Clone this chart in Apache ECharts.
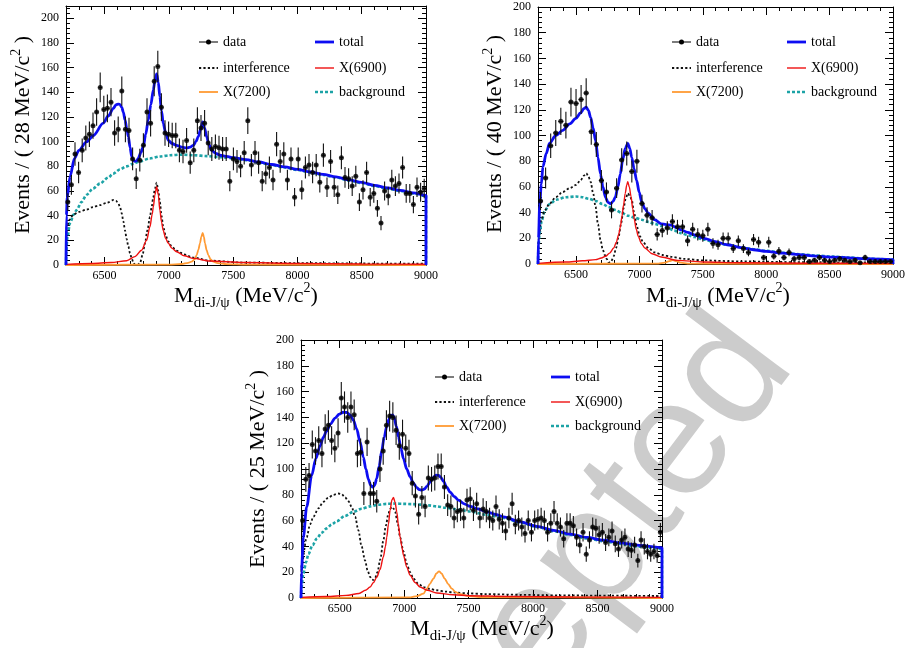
<!DOCTYPE html>
<html>
<head>
<meta charset="utf-8">
<script src="https://cdn.jsdelivr.net/npm/echarts@6/dist/echarts.min.js"></script>
<style>
html, body { margin: 0; padding: 0; background: #fff; }
#chart { width: 908px; height: 648px; }
</style>
</head>
<body>
<div id="chart"></div>
<script>
var FONT = '"Liberation Serif", "Times New Roman", serif'

// axis range, bin widths (MeV) and ticks
var xMin = 6200
var xMax = 9000
var binWidths = [28, 40, 25]
var yMaxes = [210, 200, 200]
var xMajorTicks = [6500, 7000, 7500, 8000, 8500, 9000]
var yMajorTicks = [0, 20, 40, 60, 80, 100, 120, 140, 160, 180, 200]
var legendNames = ['data', 'total', 'interference', 'X(6900)', 'X(7200)', 'background']

// ---- panel 1 (28 MeV bins) ----
var p1Counts = [51, 65, 90, 75, 93, 103, 106, 113, 124, 144,
  126, 127, 132, 107, 110, 141, 110, 109, 86, 70,
  85, 97, 124, 115, 149, 161, 128, 107, 106, 105,
  105, 93, 92, 101, 83, 93, 117, 111, 115, 99,
  94, 96, 95, 94, 94, 68, 86, 84, 80, 91,
  117, 81, 91, 83, 68, 74, 79, 69, 98, 84,
  90, 69, 86, 55, 86, 61, 79, 81, 75, 81,
  67, 89, 63, 84, 63, 57, 87, 71, 70, 64,
  72, 51, 61, 75, 55, 58, 46, 34, 60, 56,
  69, 64, 66, 79, 58, 58, 49, 63, 59, 62]
var p1Total = [[6200, 0], [6203, 40], [6210, 55], [6231, 71.6], [6266, 86.5], [6300, 93], [6361, 100], [6413, 105], [6490, 115], [6530, 121], [6568, 127], [6590, 130], [6607, 130.5], [6620, 130], [6633, 128], [6646, 124], [6659, 117.6], [6672, 111], [6685, 104], [6698, 95.5], [6711, 88], [6724, 85], [6736, 84], [6750, 84.5], [6762, 86.5], [6782, 91], [6801, 96], [6820, 106], [6840, 117.6], [6860, 130], [6879, 142], [6893, 150], [6905, 155], [6918, 148], [6930, 136.5], [6943, 125], [6956, 115], [6975, 107], [6996, 101], [7025, 98.5], [7060, 97], [7100, 95.5], [7138, 95], [7165, 95.5], [7190, 97], [7210, 100], [7229, 104], [7246, 110], [7263, 116], [7278, 111], [7294, 104], [7312, 97.5], [7333, 93], [7365, 90.5], [7398, 89], [7450, 88], [7501, 87], [7600, 85.5], [7700, 83.5], [7800, 81.5], [7900, 79.5], [8000, 77.5], [8100, 75.5], [8200, 73.5], [8300, 71.5], [8400, 69], [8500, 67], [8600, 64.5], [8700, 62.5], [8800, 60.5], [8900, 58.5], [9000, 56.5], [9000, 0]]
var p1Bkg = [[6200, 0], [6203, 12], [6210, 22], [6231, 34], [6260, 41], [6283, 44.6], [6320, 51], [6361, 57], [6410, 62], [6464, 66], [6530, 71], [6566, 74], [6620, 77.5], [6670, 80], [6720, 82], [6774, 84], [6850, 86.3], [6930, 88], [7009, 89], [7100, 89.5], [7190, 89], [7300, 88.3], [7400, 87.5], [7501, 86.5], [7600, 85], [7700, 83], [7800, 81], [7900, 79], [8000, 77], [8100, 75], [8200, 73], [8300, 71], [8400, 68.5], [8500, 66.5], [8600, 64], [8700, 62], [8800, 60], [8900, 58], [9000, 56], [9000, 0]]
var p1Interf = [[6200, 15], [6205, 31], [6230, 37], [6257, 41], [6300, 43], [6361, 45], [6410, 47], [6464, 48.6], [6520, 50.5], [6568, 52.7], [6590, 52], [6607, 50], [6620, 47], [6633, 42], [6646, 35.5], [6659, 28], [6672, 21], [6685, 15], [6698, 9.5], [6711, 5.4], [6724, 2], [6736, 0.3], [6755, 0], [6775, 1.4], [6795, 8], [6814, 17.6], [6833, 28], [6853, 39], [6866, 47], [6879, 55], [6892, 62], [6905, 66.8], [6918, 60], [6930, 51], [6943, 40], [6956, 31], [6975, 24], [6996, 19], [7025, 14.5], [7060, 11.6], [7120, 8.5], [7190, 6], [7320, 3.5], [7579, 2], [8000, 1.5], [8500, 1.2], [9000, 1]]
var p1X6900 = [[6200, 0.5], [6400, 1.2], [6550, 2], [6672, 3.5], [6736, 6.8], [6788, 12], [6827, 20], [6853, 31], [6870, 41], [6879, 47], [6892, 57], [6905, 63.5], [6918, 57], [6930, 44.6], [6943, 35], [6956, 28], [6975, 21.5], [6996, 17.6], [7025, 13.5], [7060, 10.8], [7120, 7.5], [7190, 5.4], [7320, 3.2], [7579, 2], [8000, 1.2], [8500, 0.8], [9000, 0.6]]
var p1X7200 = [[6200, 0], [7000, 0.3], [7100, 0.8], [7150, 1.8], [7177, 2.7], [7200, 4.5], [7216, 8], [7230, 12.5], [7242, 17.6], [7253, 23], [7263, 26], [7272, 23], [7281, 17.6], [7294, 12], [7307, 8], [7325, 4.5], [7346, 2.7], [7380, 1.5], [7450, 0.7], [7600, 0.3], [9000, 0]]

// ---- panel 2 (40 MeV bins) ----
var p2Counts = [49, 67, 92, 102, 111, 108, 126, 125, 128, 133,
  103, 93, 65, 56, 42, 59, 81, 86, 72, 80,
  47, 38, 36, 23, 26, 28, 33, 29, 29, 18,
  27, 23, 22, 27, 16, 15, 20, 20, 12, 18,
  12, 9, 19, 17, 5, 17, 6, 10, 5, 9,
  4, 5, 5, 2, 3, 5, 3, 2, 3, 4,
  3, 2, 3, 1, 5, 2, 2, 2, 2, 2]
var p2Total = [[6200, 0], [6204, 20], [6213, 45], [6226, 62], [6239, 75.8], [6265, 86], [6291, 94], [6340, 100], [6395, 104], [6450, 109], [6499, 113.3], [6535, 117.5], [6563, 121], [6580, 122], [6598, 119.5], [6615, 114], [6635, 106], [6654, 96], [6673, 83], [6693, 70], [6712, 60], [6732, 52], [6752, 48], [6771, 46.8], [6790, 48.5], [6810, 52], [6830, 60], [6849, 70], [6868, 81], [6888, 90], [6908, 93.8], [6924, 90], [6939, 83], [6958, 74], [6978, 65], [6998, 56], [7017, 48.6], [7043, 43], [7069, 39.6], [7120, 34.5], [7172, 31.3], [7210, 30.7], [7250, 30.2], [7290, 28.3], [7328, 26.6], [7380, 24.6], [7432, 22.7], [7510, 20], [7588, 17.6], [7691, 15], [7800, 12.8], [7900, 11.1], [8002, 9.8], [8130, 8.4], [8261, 7.2], [8390, 6.2], [8521, 5.4], [8650, 4.7], [8780, 4.1], [8900, 3.7], [9000, 3.4], [9000, 0]]
var p2Bkg = [[6200, 0], [6204, 14], [6213, 24], [6230, 34], [6252, 41], [6290, 46.5], [6343, 50], [6421, 52], [6499, 52.5], [6550, 52], [6602, 50.7], [6655, 49], [6706, 46.8], [6760, 44.3], [6810, 42], [6860, 39.8], [6913, 37.5], [6965, 36], [7017, 34.4], [7070, 32.8], [7120, 31.3], [7172, 29.6], [7224, 28], [7276, 26], [7328, 24], [7380, 22.5], [7432, 21], [7510, 19], [7588, 17], [7691, 15], [7800, 13], [7900, 11.5], [8002, 10.2], [8130, 8.8], [8261, 7.6], [8390, 6.6], [8521, 5.8], [8650, 5], [8780, 4.3], [8900, 3.8], [9000, 3.4], [9000, 0]]
var p2Interf = [[6200, 5], [6206, 20], [6226, 34.4], [6255, 42], [6291, 47], [6340, 52], [6395, 56], [6450, 59], [6499, 61.5], [6535, 65], [6563, 68.8], [6581, 70.6], [6598, 68], [6615, 64], [6635, 55], [6654, 44.6], [6673, 31], [6693, 18.8], [6710, 11.5], [6727, 7], [6742, 4], [6758, 1], [6777, 2], [6797, 6], [6816, 12.5], [6836, 21.5], [6856, 32], [6875, 43.5], [6892, 51], [6908, 55], [6924, 53], [6939, 50], [6958, 40], [6978, 29.6], [7004, 21.5], [7030, 16.7], [7075, 12], [7120, 9], [7185, 7], [7250, 5.6], [7350, 4], [7500, 2.8], [7800, 2], [8300, 1.4], [9000, 1]]
var p2X6900 = [[6200, 0.5], [6420, 1.5], [6550, 2.5], [6654, 3.4], [6700, 4.7], [6732, 6], [6765, 8.5], [6797, 12.4], [6818, 17], [6836, 22.8], [6850, 29], [6862, 37], [6875, 46], [6888, 55], [6900, 61.5], [6908, 64], [6920, 60], [6934, 52.5], [6947, 43], [6960, 34.4], [6975, 27], [6991, 21.5], [7015, 16], [7043, 12.4], [7100, 8], [7172, 5.4], [7302, 2.8], [7500, 1.6], [7800, 1], [8300, 0.6], [9000, 0.4]]
var p2X7200 = [[6200, 0], [7150, 0.3], [7200, 1], [7235, 2.3], [7263, 3], [7290, 2.3], [7325, 1], [7380, 0.3], [9000, 0]]

// ---- panel 3 (25 MeV bins) ----
var p3Counts = [60, 92, 95, 119, 114, 122, 112, 131, 134, 122,
  116, 128, 155, 148, 140, 148, 142, 112, 113, 81,
  121, 81, 81, 75, 100, 114, 134, 141, 140, 130,
  118, 127, 116, 112, 89, 79, 65, 78, 71, 93,
  92, 93, 102, 102, 86, 72, 71, 62, 67, 68,
  62, 76, 77, 68, 73, 62, 69, 67, 62, 60,
  71, 61, 58, 52, 62, 73, 57, 60, 55, 50,
  60, 51, 60, 61, 62, 60, 51, 58, 67, 58,
  55, 46, 58, 58, 56, 47, 41, 51, 34, 45,
  55, 54, 49, 51, 43, 47, 52, 42, 38, 45,
  47, 38, 37, 41, 29, 45, 40, 36, 34, 36,
  33, 51]
var p3Total = [[6200, 0], [6204, 21], [6218, 47], [6244, 70.6], [6283, 95], [6315, 108], [6348, 118], [6373, 124.5], [6399, 129.5], [6430, 135], [6464, 139.5], [6497, 142.5], [6529, 144], [6555, 143.8], [6580, 142], [6606, 138], [6632, 131], [6658, 121], [6684, 109], [6703, 100], [6723, 92], [6740, 87.5], [6756, 86], [6772, 87.5], [6787, 92.6], [6806, 102], [6826, 114], [6845, 124.5], [6865, 133], [6881, 138.5], [6896, 141.5], [6910, 142], [6922, 140], [6940, 133], [6956, 125], [6975, 116], [6995, 108], [7020, 100], [7046, 94], [7072, 89], [7098, 85.5], [7118, 84], [7137, 83.6], [7157, 84.5], [7176, 86.5], [7202, 90], [7227, 93.5], [7247, 95.3], [7266, 95], [7285, 93.5], [7305, 90.5], [7330, 86], [7357, 82], [7390, 78.5], [7421, 75.8], [7466, 73], [7512, 71], [7577, 69], [7641, 66.8], [7706, 64.9], [7771, 62.9], [7900, 59], [8030, 55.5], [8160, 52.5], [8289, 49.5], [8418, 47], [8547, 44.8], [8676, 42.8], [8806, 41], [8900, 40], [9000, 39], [9000, 0]]
var p3Bkg = [[6200, 0], [6204, 8], [6218, 19], [6240, 28], [6257, 34], [6290, 41], [6322, 46], [6360, 50.5], [6399, 54], [6438, 57], [6477, 59.5], [6540, 63.5], [6606, 66.8], [6670, 69.2], [6736, 71], [6800, 72.3], [6865, 73], [6930, 73.2], [6995, 73], [7060, 72.8], [7124, 72.4], [7190, 71.8], [7253, 71], [7318, 70], [7383, 69], [7448, 68], [7512, 67], [7641, 64.5], [7771, 62], [7900, 58.5], [8030, 55], [8160, 51.8], [8289, 48.8], [8418, 46.2], [8547, 44], [8676, 42], [8806, 40], [8900, 39], [9000, 38], [9000, 0]]
var p3Interf = [[6200, 10], [6205, 26], [6244, 47], [6270, 57], [6296, 63], [6335, 69.5], [6373, 74.5], [6412, 77.8], [6451, 80], [6490, 81], [6515, 80.5], [6542, 78], [6568, 75], [6593, 70.6], [6620, 63], [6645, 52.5], [6670, 40], [6697, 29], [6716, 21.5], [6736, 16.3], [6750, 14.3], [6762, 14], [6775, 15.5], [6793, 20], [6815, 30], [6839, 44.8], [6858, 56], [6878, 65.5], [6891, 69], [6904, 70.6], [6917, 69.5], [6930, 66.8], [6950, 58], [6969, 47], [6995, 36], [7020, 26.6], [7046, 20], [7072, 15], [7110, 11], [7150, 8.5], [7200, 7], [7253, 6], [7320, 5], [7383, 4.3], [7500, 3.6], [7641, 3], [7900, 2.5], [8200, 2], [8600, 1.8], [9000, 1.5]]
var p3X6900 = [[6200, 0.5], [6400, 1.2], [6550, 2], [6650, 3.5], [6700, 6], [6736, 8.5], [6762, 12], [6787, 16], [6813, 22], [6839, 32], [6855, 40], [6865, 47], [6878, 57], [6891, 68], [6905, 76], [6917, 78], [6930, 74], [6943, 66.8], [6956, 56], [6969, 47], [6982, 40], [6995, 33], [7020, 24], [7046, 17.6], [7085, 12], [7124, 8.5], [7180, 6], [7253, 3.9], [7380, 2.5], [7512, 1.8], [7800, 1.2], [8300, 0.8], [9000, 0.5]]
var p3X7200 = [[6200, 0], [7050, 0.5], [7100, 1.5], [7150, 3.4], [7176, 7.2], [7200, 11], [7227, 15], [7250, 19], [7271, 20.7], [7290, 19], [7315, 15], [7340, 11], [7370, 7.2], [7400, 4.5], [7435, 3], [7500, 1.5], [7600, 0.6], [9000, 0]]

var panelCounts = [p1Counts, p2Counts, p3Counts]
var panelCurves = [
  { total: p1Total, bkg: p1Bkg, interf: p1Interf, x6900: p1X6900, x7200: p1X7200 },
  { total: p2Total, bkg: p2Bkg, interf: p2Interf, x6900: p2X6900, x7200: p2X7200 },
  { total: p3Total, bkg: p3Bkg, interf: p3Interf, x6900: p3X6900, x7200: p3X7200 }
]

// layout
var grids = [
  { left: 66, top: 6, width: 360, height: 259 },
  { left: 538, top: 7, width: 360, height: 257 },
  { left: 301, top: 340, width: 361, height: 258 }
]
var legendPos = [
  { c1: 199, c2: 315, rows: [42, 68, 92] },
  { c1: 672, c2: 787, rows: [42, 68, 92] },
  { c1: 435, c2: 551, rows: [377, 402, 426] }
]
var xTitlePos = [[246, 296], [718, 296], [482, 629]]
var yTitlePos = [[23, 135], [495, 134], [258, 469]]

var COLORS = {
  total: '#0d0df2',
  bkg: '#1ca3a6',
  interf: '#111111',
  x6900: '#ee1111',
  x7200: '#ff9a33'
}
var STYLES = {
  bkg: { color: COLORS.bkg, width: 2.6, type: [3, 2] },
  interf: { color: COLORS.interf, width: 1.8, type: [2.2, 2.2] },
  x6900: { color: COLORS.x6900, width: 1.4, type: 'solid' },
  x7200: { color: COLORS.x7200, width: 1.8, type: 'solid' },
  total: { color: COLORS.total, width: 2.8, type: 'solid' }
}

function plainNumber(v) { return String(v) }

function makeAxes(p) {
  var xs = [], ys = []
  var tickStyle = { color: '#000', width: 1 }
  var lineStyle = { color: '#000', width: 1 }
  var xBase = { gridIndex: p, type: 'value', min: xMin, max: xMax, splitLine: { show: false } }
  var yBase = { gridIndex: p, type: 'value', min: 0, max: yMaxes[p], splitLine: { show: false } }
  var label = { color: '#000', fontFamily: FONT, fontSize: 12, formatter: plainNumber }

  xs.push(Object.assign({}, xBase, {
    position: 'bottom',
    axisLine: { onZero: false, lineStyle: lineStyle },
    axisTick: { inside: true, length: 8, customValues: xMajorTicks, lineStyle: tickStyle },
    axisLabel: Object.assign({ customValues: xMajorTicks, margin: 5 }, label)
  }))
  xs.push(Object.assign({}, xBase, {
    position: 'top',
    axisLine: { onZero: false, lineStyle: lineStyle },
    axisTick: { inside: true, length: 8, customValues: xMajorTicks, lineStyle: tickStyle },
    axisLabel: { show: false }
  }))
  xs.push(Object.assign({}, xBase, {
    position: 'bottom', interval: 100,
    axisLine: { show: false, onZero: false },
    axisTick: { inside: true, length: 4, lineStyle: tickStyle },
    axisLabel: { show: false }
  }))
  xs.push(Object.assign({}, xBase, {
    position: 'top', interval: 100,
    axisLine: { show: false, onZero: false },
    axisTick: { inside: true, length: 4, lineStyle: tickStyle },
    axisLabel: { show: false }
  }))

  ys.push(Object.assign({}, yBase, {
    position: 'left',
    axisLine: { onZero: false, lineStyle: lineStyle },
    axisTick: { inside: true, length: 8, customValues: yMajorTicks, lineStyle: tickStyle },
    axisLabel: Object.assign({ customValues: yMajorTicks, margin: 7 }, label)
  }))
  ys.push(Object.assign({}, yBase, {
    position: 'right',
    axisLine: { onZero: false, lineStyle: lineStyle },
    axisTick: { inside: true, length: 8, customValues: yMajorTicks, lineStyle: tickStyle },
    axisLabel: { show: false }
  }))
  ys.push(Object.assign({}, yBase, {
    position: 'left', interval: 4,
    axisLine: { show: false, onZero: false },
    axisTick: { inside: true, length: 4, lineStyle: tickStyle },
    axisLabel: { show: false }
  }))
  ys.push(Object.assign({}, yBase, {
    position: 'right', interval: 4,
    axisLine: { show: false, onZero: false },
    axisTick: { inside: true, length: 4, lineStyle: tickStyle },
    axisLabel: { show: false }
  }))
  return { xs: xs, ys: ys }
}

function curveSeries(p, key) {
  return {
    type: 'line',
    xAxisIndex: p * 4,
    yAxisIndex: p * 4,
    data: panelCurves[p][key],
    showSymbol: false,
    smooth: 0.3,
    smoothMonotone: 'x',
    clip: true,
    z: key === 'total' ? 3 : 2,
    lineStyle: STYLES[key]
  }
}

function dataSeries(p) {
  var w = binWidths[p]
  var pts = panelCounts[p].map(function (v, i) {
    var c = xMin + w * (i + 0.5)
    var e = Math.sqrt(v)
    return [c, v, v - e, v + e]
  })
  var bars = {
    type: 'custom',
    xAxisIndex: p * 4,
    yAxisIndex: p * 4,
    clip: true,
    z: 4,
    data: pts,
    encode: { x: 0, y: [1, 2, 3] },
    renderItem: function (params, api) {
      var x = api.value(0), y = api.value(1)
      var lo = api.coord([x, api.value(2)])
      var hi = api.coord([x, api.value(3)])
      var l = api.coord([x - w / 2, y])
      var r = api.coord([x + w / 2, y])
      var st = { stroke: '#111', lineWidth: 1.1 }
      return {
        type: 'group',
        children: [
          { type: 'line', shape: { x1: lo[0], y1: lo[1], x2: hi[0], y2: hi[1] }, style: st },
          { type: 'line', shape: { x1: l[0], y1: l[1], x2: r[0], y2: r[1] }, style: st }
        ]
      }
    }
  }
  var dots = {
    type: 'scatter',
    xAxisIndex: p * 4,
    yAxisIndex: p * 4,
    z: 5,
    symbol: 'circle',
    symbolSize: 5,
    itemStyle: { color: '#000' },
    data: pts.map(function (d) { return [d[0], d[1]] })
  }
  return [bars, dots]
}

function legendGraphic(p) {
  var L = legendPos[p]
  var out = []
  var len = 19
  var entries = [
    { col: 0, row: 0, name: legendNames[0], key: 'data' },
    { col: 1, row: 0, name: legendNames[1], key: 'total' },
    { col: 0, row: 1, name: legendNames[2], key: 'interf' },
    { col: 1, row: 1, name: legendNames[3], key: 'x6900' },
    { col: 0, row: 2, name: legendNames[4], key: 'x7200' },
    { col: 1, row: 2, name: legendNames[5], key: 'bkg' }
  ]
  entries.forEach(function (en) {
    var x0 = en.col === 0 ? L.c1 : L.c2
    var y = L.rows[en.row]
    if (en.key === 'data') {
      out.push({ type: 'line', z: 10, shape: { x1: x0, y1: y, x2: x0 + len, y2: y }, style: { stroke: '#111', lineWidth: 1.1 } })
      out.push({ type: 'circle', z: 10, shape: { cx: x0 + len / 2, cy: y, r: 2.5 }, style: { fill: '#000' } })
    } else {
      var s = STYLES[en.key]
      out.push({
        type: 'line', z: 10,
        shape: { x1: x0, y1: y, x2: x0 + len, y2: y },
        style: { stroke: s.color, lineWidth: s.width, lineDash: s.type === 'solid' ? null : s.type }
      })
    }
    out.push({
      type: 'text', z: 10,
      x: x0 + len + 5, y: y,
      style: { text: en.name, fontFamily: FONT, fontSize: 14, fill: '#000', align: 'left', verticalAlign: 'middle' }
    })
  })
  return out
}

function titleGraphic(p) {
  var out = []
  out.push({
    type: 'text', z: 10,
    x: xTitlePos[p][0], y: xTitlePos[p][1],
    style: {
      text: '{m|M}{s|di-J/ψ}{m| (MeV/c}{u|2}{m|)}',
      align: 'center', verticalAlign: 'middle',
      rich: {
        m: { fontFamily: FONT, fontSize: 22, lineHeight: 30, fill: '#000' },
        s: { fontFamily: FONT, fontSize: 15, lineHeight: 15, verticalAlign: 'bottom', fill: '#000' },
        u: { fontFamily: FONT, fontSize: 14, lineHeight: 14, verticalAlign: 'top', fill: '#000' }
      }
    }
  })
  out.push({
    type: 'text', z: 10,
    x: yTitlePos[p][0], y: yTitlePos[p][1],
    rotation: Math.PI / 2,
    style: {
      text: '{m|Events / ( ' + binWidths[p] + ' MeV/c}{u|2}{m| )}',
      align: 'center', verticalAlign: 'middle',
      rich: {
        m: { fontFamily: FONT, fontSize: 22, lineHeight: 28, fill: '#000' },
        u: { fontFamily: FONT, fontSize: 14, lineHeight: 14, verticalAlign: 'top', fill: '#000' }
      }
    }
  })
  return out
}

var xAxes = [], yAxes = [], series = [], graphics = []
for (var p = 0; p < 3; p++) {
  var ax = makeAxes(p)
  xAxes = xAxes.concat(ax.xs)
  yAxes = yAxes.concat(ax.ys)
  series.push(curveSeries(p, 'bkg'))
  series.push(curveSeries(p, 'interf'))
  series.push(curveSeries(p, 'x7200'))
  series.push(curveSeries(p, 'x6900'))
  series.push(curveSeries(p, 'total'))
  series = series.concat(dataSeries(p))
  graphics = graphics.concat(legendGraphic(p), titleGraphic(p))
}

// "Accepted" watermark
graphics.unshift({
  type: 'text',
  z: -5,
  x: 760, y: 338,
  rotation: 53 * Math.PI / 180,
  style: {
    text: 'Accepted',
    fontFamily: '"Liberation Sans", Arial, sans-serif',
    fontSize: 165,
    fill: '#cccccc',
    align: 'right',
    verticalAlign: 'middle'
  }
})

var chart = echarts.init(document.getElementById('chart'), null, { renderer: 'canvas' })
var option = {
  animation: false,
  backgroundColor: '#fff',
  grid: grids,
  xAxis: xAxes,
  yAxis: yAxes,
  series: series,
  graphic: { elements: graphics }
}
chart.setOption(option)
</script>
</body>
</html>
